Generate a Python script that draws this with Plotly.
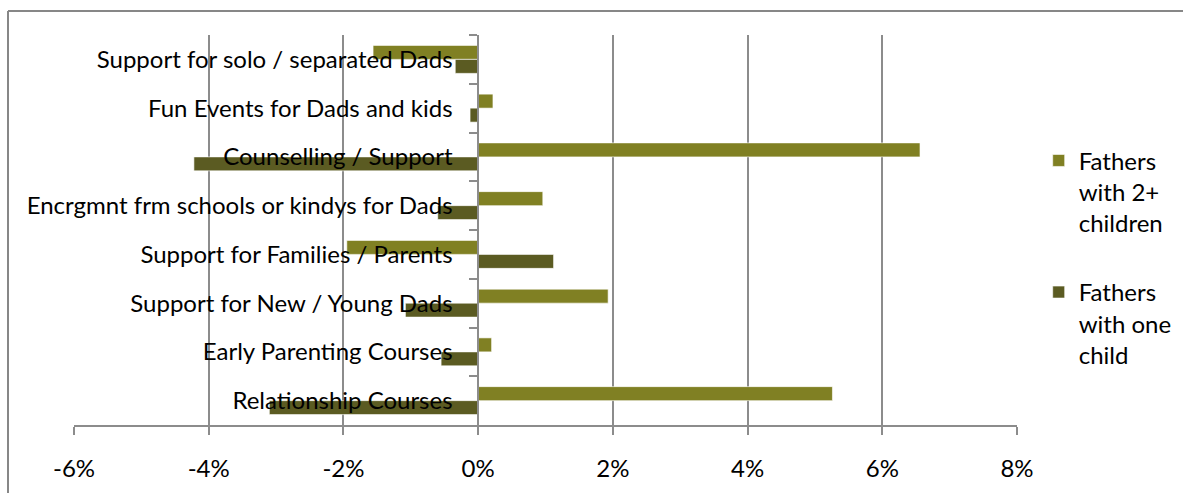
import plotly.graph_objects as go

# Programme preferences: change in share of fathers choosing each option
categories = [
    "Support for solo / separated Dads",
    "Fun Events for Dads and kids",
    "Counselling / Support",
    "Encrgmnt frm schools or kindys for Dads",
    "Support for Families / Parents",
    "Support for New / Young Dads",
    "Early Parenting Courses",
    "Relationship Courses",
]
two_plus_children = [-1.56, 0.22, 6.56, 0.96, -1.95, 1.93, 0.20, 5.26]
one_child = [-0.34, -0.12, -4.22, -0.60, 1.12, -1.08, -0.55, -3.10]
x_ticks = [-6, -4, -2, 0, 2, 4, 6, 8]
x_tick_labels = ["-6%", "-4%", "-2%", "0%", "2%", "4%", "6%", "8%"]

FONT = "Lato"
FONT_SIZE = 24
GRID = "#8c8c8c"
W, H = 1183, 493
L, R, T, B = 74, 166, 35, 68

fig = go.Figure()
fig.add_trace(go.Bar(
    y=categories, x=two_plus_children, orientation="h",
    name="Fathers<br>with 2+<br>children", legendgroup="a",
    marker=dict(color="#808023", line=dict(color="rgba(255,255,255,0.6)", width=1)),
))
fig.add_trace(go.Bar(
    y=categories, x=one_child, orientation="h",
    name="Fathers<br>with one<br>child", legendgroup="b",
    marker=dict(color="#5b5b22", line=dict(color="rgba(255,255,255,0.6)", width=1)),
))

x_min, x_max = x_ticks[0], x_ticks[-1]
fig.update_layout(
    width=W, height=H,
    margin=dict(l=L, r=R, t=T, b=B, autoexpand=False),
    paper_bgcolor="white", plot_bgcolor="white",
    font=dict(family=FONT, size=FONT_SIZE, color="black"),
    barmode="group", bargap=0.426, bargroupgap=0,
    xaxis=dict(
        range=[x_min, x_max], domain=[0, 1], automargin=False,
        tickvals=x_ticks, ticktext=x_tick_labels,
        showgrid=True, gridcolor=GRID, gridwidth=1.5,
        zeroline=False,
        showline=True, linecolor=GRID, linewidth=1.5,
        ticks="outside", ticklen=8, tickcolor=GRID, tickwidth=1.5,
        ticklabelstandoff=13,
    ),
    yaxis=dict(
        type="category", autorange="reversed", automargin=False,
        anchor="free", position=(0 - x_min) / (x_max - x_min),
        showgrid=False, zeroline=False,
        showline=True, linecolor=GRID, linewidth=1.5,
        ticks="outside", tickson="boundaries", ticklen=8, tickcolor=GRID, tickwidth=1.5,
        ticklabelstandoff=20,
    ),
    legend=dict(
        x=1.023, y=0.735, xanchor="left", yanchor="top",
        valign="top", traceorder="grouped", tracegroupgap=35,
        font=dict(family=FONT, size=FONT_SIZE, color="black"),
        itemwidth=30,
    ),
    showlegend=True,
)

# Chart frame (top and left edges of the chart area border)
px_x = lambda p: (p - L) / (W - L - R)
px_y = lambda p: 1 - (p - T) / (H - T - B)
fig.add_shape(type="line", xref="paper", yref="paper",
              x0=px_x(8), x1=px_x(W + 5), y0=px_y(11), y1=px_y(11),
              line=dict(color="#878787", width=2))
fig.add_shape(type="line", xref="paper", yref="paper",
              x0=px_x(8), x1=px_x(8), y0=px_y(11), y1=px_y(H + 5),
              line=dict(color="#878787", width=2))

fig.write_html("out.html")
